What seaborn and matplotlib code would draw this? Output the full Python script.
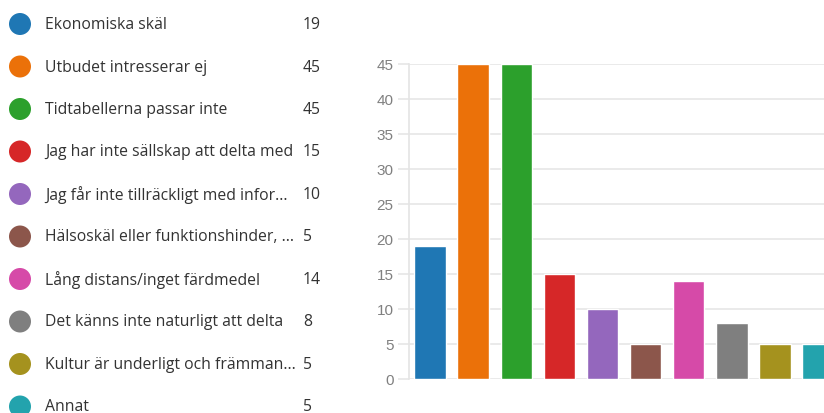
import matplotlib
matplotlib.use("Agg")
import matplotlib.pyplot as plt
import seaborn as sns
import pandas as pd

categories = [
    "Ekonomiska skäl",
    "Utbudet intresserar ej",
    "Tidtabellerna passar inte",
    "Jag har inte sällskap att delta med",
    "Jag får inte tillräckligt med infor...",
    "Hälsoskäl eller funktionshinder, ...",
    "Lång distans/inget färdmedel",
    "Det känns inte naturligt att delta",
    "Kultur är underligt och främman...",
    "Annat",
]
values = [19, 45, 45, 15, 10, 5, 14, 8, 5, 5]
colors = ["#1f77b4", "#eb7109", "#2ca02c", "#d62728", "#9467bd",
          "#8c564b", "#d64aa8", "#7f7f7f", "#a5921e", "#23a3ad"]
y_ticks = [0, 5, 10, 15, 20, 25, 30, 35, 40, 45]

sns.set_theme(style="white")
plt.rcParams["font.family"] = ["Open Sans", "DejaVu Sans"]

W, H = 824, 414
fig = plt.figure(figsize=(W / 100, H / 100), dpi=100)

# Bar chart
ax = fig.add_axes([409 / W, 34 / H, (W - 409) / W, (380 - 64.5) / H])
df = pd.DataFrame({"cat": categories, "val": values})
sns.barplot(data=df, x="cat", y="val", hue="cat", palette=colors,
            width=0.73, legend=False, ax=ax, saturation=1)
ax.set_xlim(-0.49, 9.14)
ax.set_ylim(0, 45)
ax.set_yticks(y_ticks)
ax.set_xticks([])
ax.set_xlabel("")
ax.set_ylabel("")
for s in ["top", "right", "bottom"]:
    ax.spines[s].set_visible(False)
ax.spines["left"].set_color("#e4e4e4")
ax.spines["left"].set_linewidth(1.2)
ax.yaxis.grid(True, color="#e8e8e8", linewidth=1.3)
ax.set_axisbelow(True)
ax.tick_params(axis="y", length=8, width=1.3, color="#e8e8e8",
               labelsize=11, labelcolor="#808080", pad=3, left=True)
for t in ax.get_yticklabels():
    t.set_family(["Liberation Sans", "DejaVu Sans"])

# Legend area
lg = fig.add_axes([0, 0, 360 / W, 1])
lg.set_xlim(0, 360)
lg.set_ylim(H, 0)
lg.axis("off")
ys = [25 + i * 42.5 for i in range(len(categories))]
lg.scatter([20] * len(categories), ys, s=(22 * 0.72) ** 2, c=colors,
           clip_on=False, linewidths=0)
for y, cat, v in zip(ys, categories, values):
    lg.text(45, y, cat, fontsize=11.3, color="#333333", va="center", ha="left")
    lg.text(303, y, str(v), fontsize=11.3, color="#333333", va="center", ha="left")

fig.savefig("out.png", dpi=100)
